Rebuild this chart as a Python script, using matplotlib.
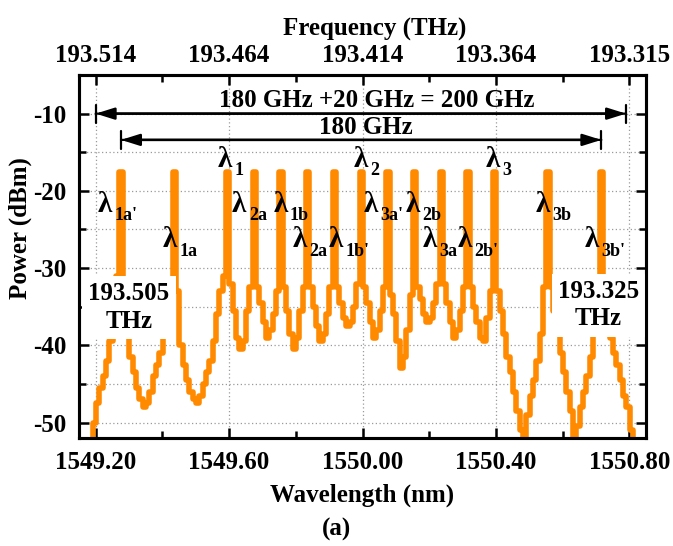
import numpy as np
import matplotlib
matplotlib.use("Agg")
import matplotlib.pyplot as plt
from matplotlib.ticker import MultipleLocator, FixedLocator

plt.rcParams['font.family'] = ['Liberation Serif', 'DejaVu Serif']
plt.rcParams['font.weight'] = 'bold'
plt.rcParams['axes.unicode_minus'] = False

# ---- data (OSA trace, sampled every 0.01 nm starting at 1549.176 nm) ----
wl_start = 1549.176
wl_step = 0.01
power = [
    -55, -52.5, -50, -47.5, -45.5, -44, -42, -39.5, -35.5, -31,      # j=2..11
    -17.5,                                                          # λ1a'
    -32, -38, -41.5, -43.5, -45.5, -47, -48, -47.5, -46, -44, -42.5, -41, -38.5, -35, -32,
    -17.5,                                                          # λ1a
    -33, -40, -42.5, -44.5, -46, -47, -47.5, -46.5, -45, -43.5, -42, -39.5, -36, -33, -31,
    -17.5,                                                          # λ1
    -32, -35.5, -39, -40.5, -39.5, -35.5, -32.5,
    -17.5,                                                          # λ2a
    -32.5, -34.5, -37, -39, -38, -36, -33,
    -17.5,                                                          # λ1b
    -32.5, -35.5, -38.5, -40.5, -39, -35.5, -32.5,
    -17.5,                                                          # λ2a'
    -32.5, -35, -37.5, -39.5, -38.5, -36, -32.5,
    -17.5,                                                          # λ1b'
    -32.5, -34.5, -36.5, -37.5, -37, -35, -32,
    -17.5,                                                          # λ2
    -32.5, -34.5, -37, -39, -38, -35.5, -32.5,
    -17.5,                                                          # λ3a'
    -33.5, -36, -39.5, -43, -41.5, -38, -33.5,
    -17.5,                                                          # λ2b
    -32.5, -34, -36, -37, -36.5, -34.5, -32,
    -17.5,                                                          # λ3a
    -32, -34.5, -37, -39, -38, -35.5, -32.5,
    -17.5,                                                          # λ2b'
    -32.5, -35, -37, -39, -39.5, -36.5, -33,
    -17.5,                                                          # λ3
    -33, -35.5, -38.5, -41.5, -43.5, -46, -48.5, -51, -52.5, -49, -46.5, -44.5, -42, -38.5, -32.5,
    -17.5,                                                          # λ3b
    -32.5, -35.5, -38.5, -41, -43.5, -46, -48.5, -52, -50.5, -48, -46, -44, -41.5, -37, -32,
    -17.5,                                                          # λ3b'
    -32, -36, -39, -41, -42.5, -44.5, -46.5, -48, -51, -55,
]
wavelength = wl_start + wl_step * np.arange(len(power))

x_ticks = [1549.20, 1549.60, 1550.00, 1550.40, 1550.80]
x_ticklabels = ["1549.20", "1549.60", "1550.00", "1550.40", "1550.80"]
freq_ticklabels = ["193.514", "193.464", "193.414", "193.364", "193.315"]

# labels: (subscript, x, baseline y)
lambda_labels = [
    ("1a'", 1549.206, -22.7), ("1a", 1549.4015, -27.3), ("1", 1549.567, -16.9),
    ("2a", 1549.609, -22.7), ("1b", 1549.732, -22.7), ("2a", 1549.789, -27.3),
    ("1b'", 1549.898, -27.3), ("2", 1549.973, -16.9), ("3a'", 1550.003, -22.7),
    ("2b", 1550.129, -22.7), ("3a", 1550.180, -27.3), ("2b'", 1550.286, -27.3),
    ("3", 1550.370, -16.9), ("3b", 1550.520, -22.7), ("3b'", 1550.665, -27.3),
]

orange = '#FF8A00'

fig = plt.figure(figsize=(6.73, 5.46), dpi=100)
ax = fig.add_axes([0.1174, 0.1978, 0.8425, 0.6648])

ax.plot(wavelength, power, drawstyle='steps-mid', color=orange, lw=4.0, zorder=2)

ax.set_xlim(1549.15, 1550.85)
ax.set_ylim(-52, -5)
ax.xaxis.set_major_locator(FixedLocator(x_ticks))
ax.set_xticklabels(x_ticklabels)
ax.xaxis.set_minor_locator(MultipleLocator(0.2))
ax.yaxis.set_major_locator(MultipleLocator(10))
ax.yaxis.set_minor_locator(MultipleLocator(5))

gridkw = dict(color='#9a9a9a', lw=0.9, ls=(0, (1, 2)))
ax.grid(which='major', axis='x', **gridkw)
ax.grid(which='both', axis='y', **gridkw)
ax.set_axisbelow(True)

ax.tick_params(which='both', direction='in', labelsize=18, width=1.8,
               left=True, right=True, bottom=True, top=False)
ax.tick_params(which='major', length=7, pad=9)
ax.tick_params(which='minor', length=5)
for s in ax.spines.values():
    s.set_linewidth(2.2)

ax.set_xlabel('Wavelength (nm)', fontsize=18, fontweight='bold')
ax.xaxis.set_label_coords(0.5, -0.125)
ax.set_ylabel('Power (dBm)', fontsize=18, fontweight='bold')
ax.yaxis.set_label_coords(-0.083, 0.579)

ax2 = ax.twiny()
ax2.set_xlim(ax.get_xlim())
ax2.xaxis.set_major_locator(FixedLocator(x_ticks))
ax2.set_xticklabels(freq_ticklabels)
ax2.xaxis.set_minor_locator(MultipleLocator(0.2))
ax2.tick_params(which='both', direction='in', labelsize=18, width=1.8)
ax2.tick_params(which='major', length=7, pad=6)
ax2.tick_params(which='minor', length=5)
ax2.set_xlabel('Frequency (THz)', fontsize=18, fontweight='bold')
ax2.xaxis.set_label_coords(0.522, 1.108)
for s in ax2.spines.values():
    s.set_linewidth(2.2)

# lambda labels
for sub, x, y in lambda_labels:
    ax.text(x, y, 'λ', fontsize=21, ha='left', va='baseline', zorder=5)
    ax.annotate(sub, xy=(x, y), xytext=(12, -6), textcoords='offset points',
                fontsize=13, ha='left', va='baseline', zorder=5)

# spacing arrows
ax.annotate('', xy=(1549.20, -10), xytext=(1550.79, -10),
            arrowprops=dict(arrowstyle='<|-|>,head_length=0.7,head_width=0.22',
                            color='k', lw=1.8, shrinkA=0, shrinkB=0, mutation_scale=16))
ax.annotate('', xy=(1549.20, -10), xytext=(1550.79, -10),
            arrowprops=dict(arrowstyle='|-|,widthA=0.4,widthB=0.4',
                            color='k', lw=1.6, shrinkA=0, shrinkB=0, mutation_scale=16))
ax.annotate('', xy=(1549.276, -13.4), xytext=(1550.716, -13.4),
            arrowprops=dict(arrowstyle='<|-|>,head_length=0.7,head_width=0.22',
                            color='k', lw=1.8, shrinkA=0, shrinkB=0, mutation_scale=16))
ax.annotate('', xy=(1549.276, -13.4), xytext=(1550.716, -13.4),
            arrowprops=dict(arrowstyle='|-|,widthA=0.4,widthB=0.4',
                            color='k', lw=1.6, shrinkA=0, shrinkB=0, mutation_scale=16))
ax.text(1550.042, -9.1, '180 GHz +20 GHz = 200 GHz', fontsize=18, ha='center', va='baseline')
ax.text(1550.011, -12.7, '180 GHz', fontsize=18, ha='center', va='baseline')

boxkw = dict(fc='white', ec='none', boxstyle='square,pad=0.25')
ax.text(1549.299, -35.1, '193.505\nTHz', fontsize=18, ha='center', va='center',
        linespacing=1.25, bbox=boxkw, zorder=3)
ax.text(1550.707, -34.8, '193.325\nTHz', fontsize=18, ha='center', va='center',
        linespacing=1.25, bbox=boxkw, zorder=3)

fig.text(0.5, 0.031, '(a)', fontsize=18, ha='center', va='center')

fig.savefig('out.png', dpi=100)
